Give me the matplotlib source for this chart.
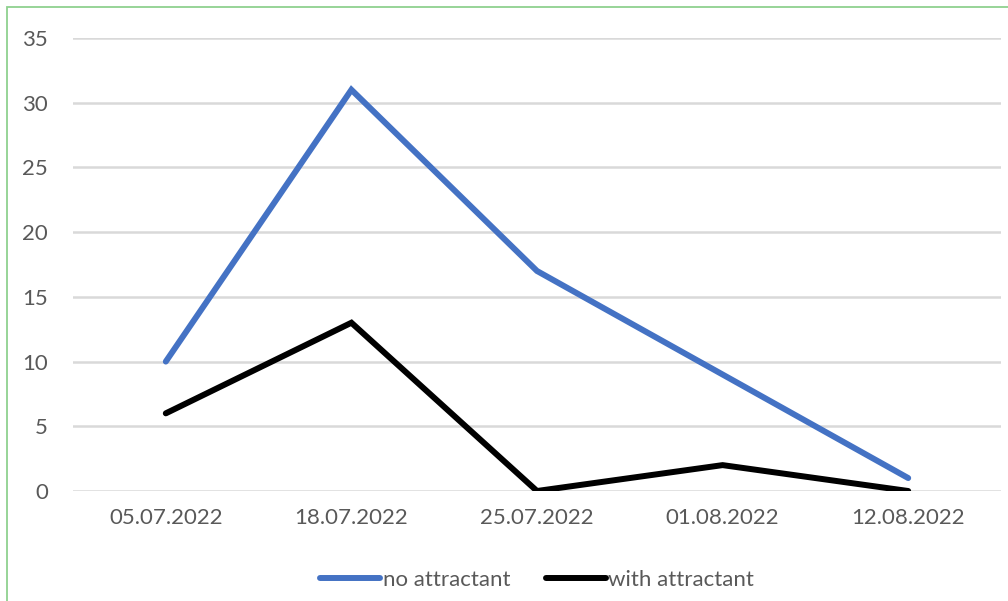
import matplotlib.pyplot as plt
from matplotlib.patches import Rectangle

# data
dates = ["05.07.2022", "18.07.2022", "25.07.2022", "01.08.2022", "12.08.2022"]
no_attractant = [10, 31, 17, 9, 1]
with_attractant = [6, 13, 0, 2, 0]
yticks = [0, 5, 10, 15, 20, 25, 30, 35]

plt.rcParams['font.family'] = ['Lato', 'DejaVu Sans']

fig = plt.figure(figsize=(10.08, 6.01), dpi=100)
ax = fig.add_axes([73 / 1008, 1 - 491 / 601, (1001 - 73) / 1008, (491 - 38) / 601])

x = range(len(dates))
ax.plot(x, no_attractant, color='#4472C4', lw=4.3, solid_capstyle='round',
        solid_joinstyle='miter', label='no attractant', zorder=3)
ax.plot(x, with_attractant, color='#000000', lw=4.3, solid_capstyle='round',
        solid_joinstyle='miter', label='with attractant', zorder=3)

ax.set_xlim(-0.5, len(dates) - 0.5)
ax.set_ylim(0, 35)
ax.set_yticks(yticks)
ax.set_xticks(list(x))
ax.set_xticklabels(dates)
ax.grid(axis='y', color='#D9D9D9', lw=1.8)
ax.set_axisbelow(True)
for s in ax.spines.values():
    s.set_visible(False)
ax.tick_params(length=0, labelsize=16, labelcolor='#595959')
ax.tick_params(axis='x', pad=12)
ax.tick_params(axis='y', pad=18)

leg = ax.legend(loc='center', bbox_to_anchor=(0.5, (491 - 580) / 453), ncol=2, frameon=False,
                fontsize=16, handlelength=2.7, handletextpad=0.1, columnspacing=1.6)
for t in leg.get_texts():
    t.set_color('#595959')

# green frame round the chart
fig.patches.append(Rectangle((7 / 1008, -0.1), 1.2, 1 - 7 / 601 + 0.1, transform=fig.transFigure,
                             fill=False, edgecolor='#8FD18F', lw=1.3))

fig.savefig('out.png', dpi=100)
